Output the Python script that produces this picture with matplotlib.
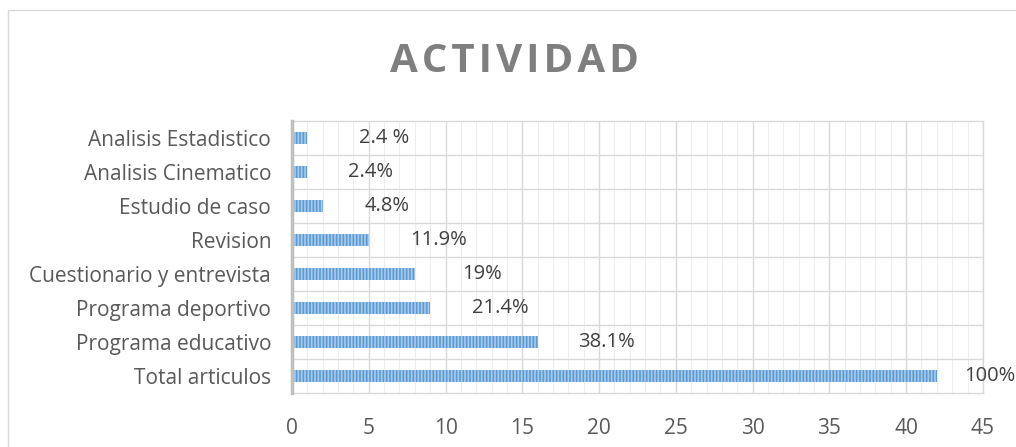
import matplotlib.pyplot as plt
from matplotlib.patches import Rectangle
from matplotlib.ticker import MultipleLocator

categories = ['Total articulos', 'Programa educativo', 'Programa deportivo',
              'Cuestionario y entrevista', 'Revision', 'Estudio de caso',
              'Analisis Cinematico', 'Analisis Estadistico']
counts = [42, 16, 9, 8, 5, 2, 1, 1]
labels = ['100%', '38.1%', '21.4%', '19%', '11.9%', '4.8%', '2.4%', '2.4 %']

# desplazamiento horizontal de cada etiqueta (en puntos)
label_dx = [20, 29, 30, 34, 30, 30, 29, 37]

TEXT = '#595959'

plt.rcParams['font.family'] = ['Open Sans', 'DejaVu Sans']
plt.rcParams['hatch.linewidth'] = 1.2

fig = plt.figure(figsize=(10.16, 4.47), dpi=100)
ax = fig.add_axes([0.2874, 0.1208, 0.68, 0.6085])

# marco exterior del grafico
fig.patches.append(Rectangle((8 / 1016, -0.1), 1.2, 1 - 10 / 447 + 0.1,
                             transform=fig.transFigure, fill=False,
                             edgecolor='#D9D9D9', linewidth=1.0))

ypos = list(range(len(categories)))
bars = ax.barh(ypos, counts, height=0.33, color='#5B9BD5',
               edgecolor='#A9CBEA', hatch='|||||', linewidth=0, zorder=3)

for rect, lab, dx in zip(bars, labels, label_dx):
    ax.annotate(lab, (rect.get_width(), rect.get_y() + rect.get_height() / 2),
                xytext=(dx, 0), textcoords='offset points',
                ha='left', va='center', fontsize=14.5, color='#404040')

ax.set_xlim(0, 45)
ax.set_ylim(-0.5, len(categories) - 0.5)
ax.xaxis.set_major_locator(MultipleLocator(5))
ax.xaxis.set_minor_locator(MultipleLocator(1))
ax.set_yticks(ypos)
ax.set_yticklabels(categories)
ax.set_yticks([y + 0.5 for y in ypos[:-1]], minor=True)

ax.grid(True, which='major', axis='x', color='#D9D9D9', linewidth=1.0, zorder=0)
ax.grid(True, which='minor', axis='x', color='#EDEDED', linewidth=0.8, zorder=0)
ax.grid(True, which='minor', axis='y', color='#D9D9D9', linewidth=1.0, zorder=0)

ax.tick_params(axis='both', which='both', length=0, labelsize=15,
               labelcolor=TEXT)
ax.tick_params(axis='x', pad=18)
ax.tick_params(axis='y', pad=15)

for side in ['top', 'right', 'bottom']:
    ax.spines[side].set_color('#D9D9D9')
    ax.spines[side].set_linewidth(1.0)
ax.spines['left'].set_color('#BFBFBF')
ax.spines['left'].set_linewidth(2.5)
ax.spines['left'].set_zorder(4)

fig.text(0.506, 0.862, '\u200a'.join('ACTIVIDAD'), ha='center', va='center',
         fontsize=29, fontweight='bold', color='#7F7F7F')

fig.savefig('out.png', dpi=100)
